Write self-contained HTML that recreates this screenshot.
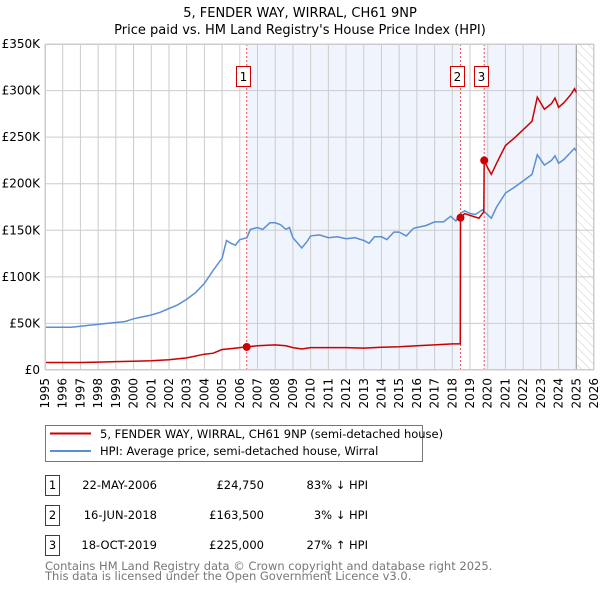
<!DOCTYPE html>
<html><head><meta charset="utf-8">
<style>
body{margin:0;background:#fff;font-family:"DejaVu Sans","Liberation Sans",sans-serif;}
#wrap{position:relative;width:600px;height:590px;overflow:hidden;}
svg text{font-family:"DejaVu Sans","Liberation Sans",sans-serif;}
</style></head>
<body>
<div id="wrap">
<svg id="chart" width="600" height="590">
<defs>
<pattern id="hatch" width="6" height="6" patternUnits="userSpaceOnUse" patternTransform="rotate(-45)">
<line x1="0" y1="0" x2="0" y2="6" stroke="#ccc" stroke-width="1"/>
</pattern>
</defs>
<text x="300" y="17" text-anchor="middle" font-size="13" fill="#000">5, FENDER WAY, WIRRAL, CH61 9NP</text>
<text x="300" y="34" text-anchor="middle" font-size="13" fill="#000">Price paid vs. HM Land Registry's House Price Index (HPI)</text>
<g id="plot"></g>
<rect x="45.5" y="425.5" width="377" height="36" fill="#fff" stroke="#777"/>
<line x1="50" y1="433.5" x2="91" y2="433.5" stroke="#cc0000" stroke-width="2"/>
<text x="100" y="438" font-size="11.5">5, FENDER WAY, WIRRAL, CH61 9NP (semi-detached house)</text>
<line x1="50" y1="451" x2="91" y2="451" stroke="#5b8fd4" stroke-width="2"/>
<text x="100" y="455" font-size="11.5">HPI: Average price, semi-detached house, Wirral</text>
<g font-size="11.5">
<rect x="45.5" y="475.5" width="14" height="20" fill="#fff" stroke="#cc0000"/>
<text x="52.5" y="489" text-anchor="middle">1</text>
<text x="157" y="489" text-anchor="end">22-MAY-2006</text>
<text x="264" y="489" text-anchor="end">£24,750</text>
<text x="368" y="489" text-anchor="end">83% ↓ HPI</text>
<rect x="45.5" y="505.5" width="14" height="20" fill="#fff" stroke="#cc0000"/>
<text x="52.5" y="519" text-anchor="middle">2</text>
<text x="157" y="519" text-anchor="end">16-JUN-2018</text>
<text x="264" y="519" text-anchor="end">£163,500</text>
<text x="368" y="519" text-anchor="end">3% ↓ HPI</text>
<rect x="45.5" y="535.5" width="14" height="20" fill="#fff" stroke="#cc0000"/>
<text x="52.5" y="549" text-anchor="middle">3</text>
<text x="157" y="549" text-anchor="end">18-OCT-2019</text>
<text x="264" y="549" text-anchor="end">£225,000</text>
<text x="368" y="549" text-anchor="end">27% ↑ HPI</text>
</g>
<text x="45" y="570" font-size="11.5" fill="#777">Contains HM Land Registry data © Crown copyright and database right 2025.</text>
<text x="45" y="580" font-size="11.5" fill="#777">This data is licensed under the Open Government Licence v3.0.</text>
</svg>
</div>
<script>
const hpiYears = [1995,1995.5,1996,1996.5,1997,1997.5,1998,1998.5,1999,1999.5,2000,2000.5,2001,2001.5,2002,2002.5,2003,2003.5,2004,2004.5,2005,2005.25,2005.5,2005.75,2006,2006.4,2006.6,2007,2007.3,2007.7,2008,2008.3,2008.6,2008.8,2009,2009.5,2009.8,2010,2010.5,2011,2011.5,2012,2012.5,2013,2013.3,2013.6,2014,2014.3,2014.7,2015,2015.4,2015.8,2016,2016.5,2017,2017.5,2017.9,2018.2,2018.46,2018.7,2019,2019.3,2019.7,2020.2,2020.5,2021,2021.5,2022,2022.5,2022.8,2023.2,2023.6,2023.8,2024.0,2024.3,2024.7,2024.9,2025.0];
const hpiValues = [46,46,46,46,47,48,49,50,51,52,55,57,59,62,66,70,76,83,93,107,120,139,136,134,140,142,151,153,151,158,158,156,151,153,142,131,138,144,145,142,143,141,142,139,136,143,143,140,148,148,144,152,153,155,159,159,165,160,168,171,168,167,172,163,175,190,196,203,210,231,220,225,230,222,226,234,238,235];
const priceYears = [1995,1997,1998,1999,2000,2001,2002,2003,2004,2004.5,2005,2005.5,2006,2006.39,2007,2008,2008.6,2009,2009.5,2010,2011,2012,2013,2014,2015,2016,2017,2018,2018.45,2018.46,2018.7,2019,2019.5,2019.78,2019.8,2020,2020.2,2020.5,2021,2021.5,2022,2022.5,2022.8,2023.2,2023.6,2023.8,2024.0,2024.3,2024.7,2024.9,2025.0];
const priceValues = [8,8,8.5,9,9.5,10,11,13,17,18,22,23,24,24.75,26,27,26,24,22.5,24,24,24,23.5,24.5,25,26,27,28,28,163.5,168,166,163,170,225,217,210,222,241,249,258,267,293,280,286,292,282,287,296,302,298];
const saleYears = [2006.39,2018.46,2019.8];
const saleValues = [24.75,163.5,225];
const saleLabels = ["1","2","3"];
const yTicks = [0,50,100,150,200,250,300,350];
const yTickLabels = ["£0","£50K","£100K","£150K","£200K","£250K","£300K","£350K"];
const xTicks = [1995,1996,1997,1998,1999,2000,2001,2002,2003,2004,2005,2006,2007,2008,2009,2010,2011,2012,2013,2014,2015,2016,2017,2018,2019,2020,2021,2022,2023,2024,2025,2026];

const L=45,R=594,T=44,B=370;
const X=y=>L+(y-1995)/(2026-1995)*(R-L);
const Y=v=>B-v/350*(B-T);
const NS="http://www.w3.org/2000/svg";
const g=document.getElementById('plot');
function mk(tag,attrs){const e=document.createElementNS(NS,tag);for(const k in attrs)e.setAttribute(k,attrs[k]);g.appendChild(e);return e;}

let e;
e=mk('rect',{x:X(saleYears[0]),y:T,width:X(saleYears[1])-X(saleYears[0]),height:B-T,fill:'#f0f4fc'});


e=mk('rect',{x:X(saleYears[2]),y:T,width:X(2025)-X(saleYears[2]),height:B-T,fill:'#f0f4fc'});


e=mk('rect',{x:X(2025),y:T,width:R-X(2025),height:B-T,fill:'url(#hatch)'});



xTicks.forEach((t,i)=>{
  const gl=mk('line',{x1:X(t),x2:X(t),y1:T,y2:B,stroke:'#ccc','stroke-width':1});
  
  
  const tx=X(t)+4;
  const lb=mk('text',{x:tx,y:378,'font-size':12,'text-anchor':'end',transform:`rotate(-90 ${tx} 378)`});
  lb.textContent=t;
  
  
});
yTicks.forEach((t,i)=>{
  const gl=mk('line',{x1:L,x2:R,y1:Y(t),y2:Y(t),stroke:'#ccc','stroke-width':1});
  
  
  const lb=mk('text',{x:40,y:Y(t)+4,'font-size':12,'text-anchor':'end'});
  lb.textContent=yTickLabels[i];
  
  
});
e=mk('line',{x1:X(2025),x2:X(2025),y1:T,y2:B,stroke:'#999','stroke-width':1});



saleYears.forEach((s,i)=>{
  const vl=mk('line',{x1:X(s),x2:X(s),y1:T,y2:B,stroke:'#ee5555','stroke-width':1,'stroke-dasharray':'2,2'});
  
  
});

const pts=(xs,vs)=>xs.map((x,i)=>X(x).toFixed(1)+','+Y(vs[i]).toFixed(1)).join(' ');
e=mk('polyline',{points:pts(hpiYears,hpiValues),fill:'none',stroke:'#5b8fd4','stroke-width':1.5});


e=mk('polyline',{points:pts(priceYears,priceValues),fill:'none',stroke:'#cc0000','stroke-width':1.5});



saleYears.forEach((s,i)=>{
  const d=mk('circle',{cx:X(s),cy:Y(saleValues[i]),r:4,fill:'#cc0000'});
  
  
  const bxX=Math.round(X(s)-10.5)+0.5;
  const bx=mk('rect',{x:bxX,y:66.5,width:14,height:20,fill:'#fff',stroke:'#cc0000'});
  
  
  const t=mk('text',{x:bxX+7,y:81,'font-size':12,'text-anchor':'middle'});
  t.textContent=saleLabels[i];
  
  
});

e=mk('rect',{x:L+0.5,y:T+0.5,width:R-L-1,height:B-T-1,fill:'none',stroke:'#ccc'});


</script>
</body></html>
